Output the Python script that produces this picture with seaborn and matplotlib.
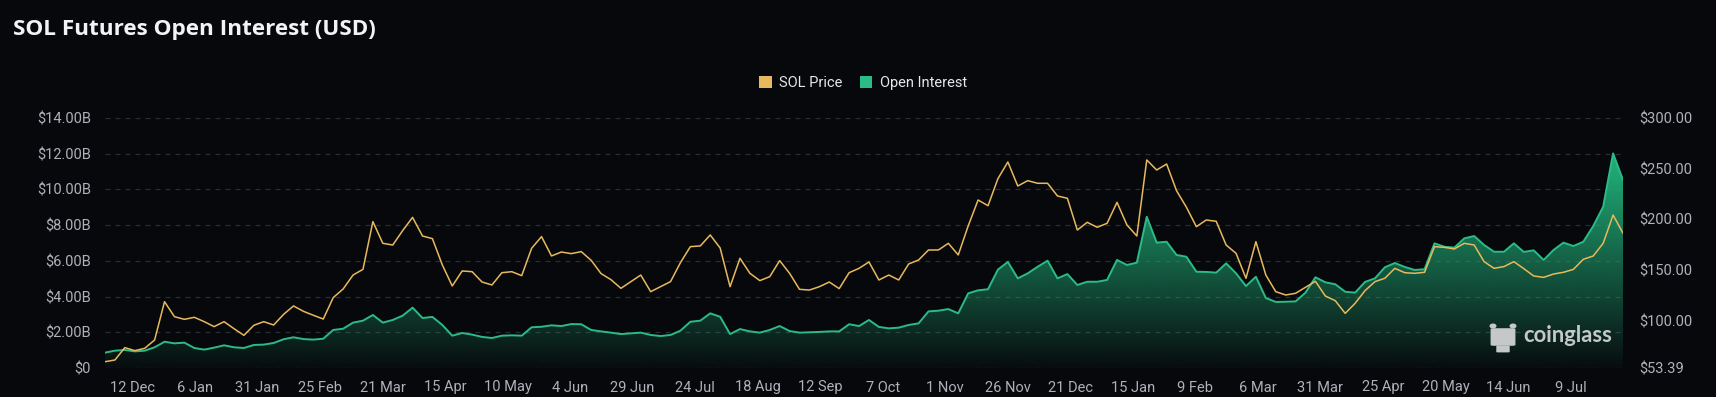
import numpy as np
import pandas as pd
import matplotlib
matplotlib.use("Agg")
import matplotlib.pyplot as plt
import seaborn as sns
from matplotlib.patches import Patch, Ellipse, FancyBboxPatch
from matplotlib.colors import LinearSegmentedColormap, to_rgb
import matplotlib.dates as mdates

# ---------------- data ----------------
dates = pd.date_range("2023-12-01", "2025-07-30", periods=154)

sol_price = [
    59.6, 61.3, 73.5, 70.5, 72.8, 81.0, 118.8, 104.0, 101.4, 103.4,
    99.1, 94.2, 99.1, 92.2, 85.6, 95.5, 99.1, 95.8, 106.3, 114.6,
    109.3, 105.4, 101.7, 122.8, 131.3, 145.1, 150.7, 197.8, 176.4, 174.7,
    188.9, 202.0, 183.6, 181.0, 155.0, 134.3, 149.1, 148.4, 138.2,
    135.3, 147.4, 148.4, 144.5, 171.5, 183.0, 163.9, 167.8, 166.2, 168.2,
    159.6, 146.5, 140.5, 132.0, 138.6, 145.1, 128.7, 133.6, 138.6, 157.3,
    173.1, 173.8, 184.6, 171.8, 133.6, 161.6, 146.8, 139.6, 143.5, 159.3,
    146.8, 131.0, 130.3, 133.6, 138.2, 131.7, 147.4, 151.7, 158.0,
    140.2, 145.1, 140.2, 156.0, 159.9, 169.8, 169.8, 176.4, 164.9, 193.5,
    219.1, 213.5, 240.2, 256.6, 232.9, 238.2, 235.6, 235.6, 223.1, 220.8,
    189.5, 197.1, 192.2, 196.1, 216.8, 194.5, 183.6, 258.6, 248.7, 254.6,
    228.3, 211.9, 192.8, 199.4, 198.1, 174.7, 166.5, 141.9,
    178.0, 145.1, 128.7, 125.4, 127.1, 133.0, 138.9, 124.4, 119.8, 107.3,
    117.2, 129.7, 138.6, 141.9, 151.7, 147.4, 146.8, 147.8, 173.1, 172.4,
    170.8, 176.4, 174.7, 158.3, 151.7, 153.4, 158.3, 151.4, 144.2, 142.8,
    146.1, 147.8, 150.7, 160.6, 163.9, 176.4, 204.3, 186.3,
]

open_interest_b = [
    0.86, 0.97, 1.01, 0.93, 0.97, 1.16, 1.47, 1.38, 1.42, 1.12,
    1.03, 1.14, 1.27, 1.16, 1.12, 1.29, 1.31, 1.40, 1.61, 1.72,
    1.62, 1.59, 1.64, 2.13, 2.20, 2.54, 2.65, 2.97, 2.54, 2.69,
    2.93, 3.38, 2.80, 2.86, 2.41, 1.81, 1.96, 1.87, 1.74,
    1.68, 1.81, 1.83, 1.81, 2.28, 2.31, 2.39, 2.35, 2.46, 2.45,
    2.13, 2.05, 1.98, 1.90, 1.94, 1.98, 1.85, 1.79, 1.85, 2.09,
    2.59, 2.65, 3.06, 2.87, 1.90, 2.18, 2.05, 1.98, 2.13, 2.35,
    2.07, 1.98, 2.00, 2.02, 2.05, 2.05, 2.45, 2.35, 2.69,
    2.30, 2.22, 2.26, 2.41, 2.50, 3.17, 3.21, 3.30, 3.06, 4.18,
    4.35, 4.41, 5.51, 5.94, 5.02, 5.30, 5.67, 6.01, 5.02, 5.26,
    4.65, 4.83, 4.83, 4.93, 6.05, 5.77, 5.90, 8.47, 7.02, 7.07,
    6.33, 6.23, 5.39, 5.38, 5.34, 5.86, 5.30, 4.59,
    5.11, 3.92, 3.70, 3.71, 3.73, 4.22, 5.08, 4.80, 4.69, 4.27,
    4.22, 4.82, 5.02, 5.64, 5.88, 5.66, 5.49, 5.53, 6.98, 6.79,
    6.74, 7.26, 7.39, 6.89, 6.51, 6.51, 6.98, 6.50, 6.59, 6.05,
    6.61, 7.02, 6.83, 7.07, 7.95, 9.03, 12.02, 10.53,
]

left_ticks = [0, 2, 4, 6, 8, 10, 12, 14]
left_labels = ["$0", "$2.00B", "$4.00B", "$6.00B", "$8.00B", "$10.00B", "$12.00B", "$14.00B"]
right_ticks = [53.39, 100, 150, 200, 250, 300]
right_labels = ["$53.39", "$100.00", "$150.00", "$200.00", "$250.00", "$300.00"]
x_tick_dates = pd.date_range("2023-12-12", periods=24, freq="25D")
x_tick_labels = ["12 Dec", "6 Jan", "31 Jan", "25 Feb", "21 Mar", "15 Apr", "10 May",
                 "4 Jun", "29 Jun", "24 Jul", "18 Aug", "12 Sep", "7 Oct", "1 Nov",
                 "26 Nov", "21 Dec", "15 Jan", "9 Feb", "6 Mar", "31 Mar", "25 Apr",
                 "20 May", "14 Jun", "9 Jul"]

df = pd.DataFrame({"date": dates, "price": sol_price, "oi": open_interest_b})

# ---------------- style ----------------
BG = "#07080c"
GOLD = "#e8b95c"
GREEN = "#2bbb86"
FILL = "#20a874"
TICK = "#aeb1b8"
GRID = "#2a2d34"
MARK = "#c4c8c8"

sns.set_theme(style="dark")
plt.rcParams.update({
    "figure.facecolor": BG,
    "axes.facecolor": BG,
    "savefig.facecolor": BG,
    "axes.edgecolor": BG,
    "text.color": "#e8e8ea",
})
plt.rcParams["font.family"] = ["Roboto", "DejaVu Sans"]

W, H = 1716, 397
fig = plt.figure(figsize=(W / 100, H / 100), dpi=100)
ax = fig.add_axes([105 / W, 1 - 368 / H, (1623 - 105) / W, 250 / H])
ax.set_facecolor(BG)

# Open interest: gradient area + line
x0 = mdates.date2num(dates[0])
x1 = mdates.date2num(dates[-1])
poly = ax.fill_between(df["date"], df["oi"], 0, color="none", linewidth=0)
r, g, b = to_rgb(FILL)
cmap = LinearSegmentedColormap.from_list(
    "oi_grad", [(0.0, (r, g, b, 0.03)), (11 / 14, (r, g, b, 1.0)), (1.0, (r, g, b, 1.0))])
img = ax.imshow(np.linspace(0, 1, 256).reshape(-1, 1), extent=[x0, x1, 0, 14],
                origin="lower", aspect="auto", cmap=cmap, zorder=1, interpolation="bicubic")
img.set_clip_path(poly.get_paths()[0], transform=ax.transData)
sns.lineplot(data=df, x="date", y="oi", ax=ax, color=GREEN, linewidth=1.4, zorder=3)

ax.set_xlim(dates[0], dates[-1])
ax.set_ylim(0, 14)
ax.set_yticks(left_ticks)
ax.set_yticklabels(left_labels)
ax.set_xticks(x_tick_dates)
ax.set_xticklabels(x_tick_labels)
ax.set_xlabel("")
ax.set_ylabel("")
ax.grid(False)
ax.yaxis.grid(True, color=GRID, linestyle=(0, (4, 4)), linewidth=0.9)
ax.tick_params(axis="both", length=0, colors=TICK, labelsize=10.5)
ax.tick_params(axis="y", pad=10)
ax.tick_params(axis="x", pad=9)
for s in ax.spines.values():
    s.set_visible(False)

# SOL price on right axis
ax2 = ax.twinx()
sns.lineplot(data=df, x="date", y="price", ax=ax2, color=GOLD, linewidth=1.1, zorder=4)
ax2.set_ylim(53.39, 300)
ax2.set_yticks(right_ticks)
ax2.set_yticklabels(right_labels)
ax2.set_ylabel("")
ax2.grid(False)
ax2.tick_params(axis="y", length=0, colors=TICK, labelsize=10.5, pad=12)
for s in ax2.spines.values():
    s.set_visible(False)
ax2.set_xlim(dates[0], dates[-1])

# Title
fig.text(13 / W, 1 - 30 / H, "SOL Futures Open Interest (USD)", fontsize=16.2,
         fontweight="bold", color="#f2f3f6", ha="left", va="center",
         family=["Open Sans", "DejaVu Sans"])

# Legend
handles = [Patch(facecolor=GOLD, edgecolor="none", label="SOL Price"),
           Patch(facecolor=GREEN, edgecolor="none", label="Open Interest")]
fig.legend(handles=handles, loc="center", bbox_to_anchor=(863 / W, 1 - 83 / H),
           ncol=2, frameon=False, fontsize=10.5, handlelength=0.85, handleheight=0.85,
           handletextpad=0.5, columnspacing=1.2, labelcolor="#e6e7ea")

# Watermark
fig.text(1523 / W, 1 - 336 / H, "coinglass", fontsize=15.8, fontweight="bold",
         color=MARK, ha="left", va="center", family=["Lato", "DejaVu Sans"])
# simple bull-head logo
fig.patches.append(FancyBboxPatch((1494 / W, 1 - 345 / H), 18 / W, 16 / H,
                                  boxstyle="round,pad=0.002", transform=fig.transFigure,
                                  facecolor=MARK, edgecolor="none"))
fig.patches.append(Ellipse((1493 / W, 1 - 326 / H), 7 / W, 5 / H,
                           transform=fig.transFigure, facecolor=MARK, edgecolor="none"))
fig.patches.append(Ellipse((1513 / W, 1 - 326 / H), 7 / W, 5 / H,
                           transform=fig.transFigure, facecolor=MARK, edgecolor="none"))
fig.patches.append(FancyBboxPatch((1498 / W, 1 - 352 / H), 10 / W, 6 / H,
                                  boxstyle="round,pad=0.001", transform=fig.transFigure,
                                  facecolor=MARK, edgecolor="none"))

fig.savefig("out.png", dpi=100, facecolor=BG)
